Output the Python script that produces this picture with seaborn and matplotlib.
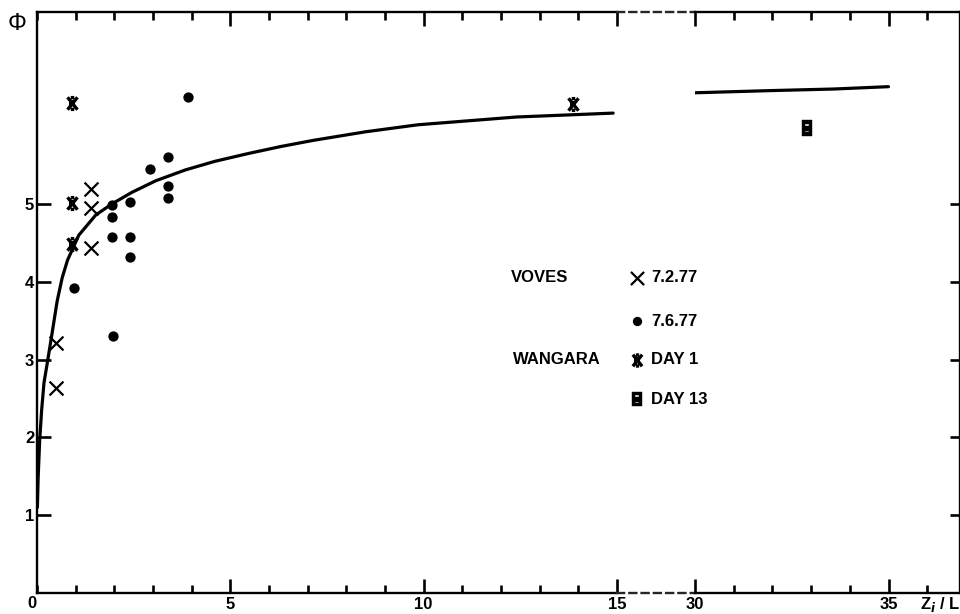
import numpy as np
import pandas as pd
import matplotlib
matplotlib.use("Agg")
import matplotlib.pyplot as plt
from matplotlib.path import Path
from matplotlib.ticker import MultipleLocator, FixedLocator
import seaborn as sns

# ---------------- data ----------------
voves_feb_x = [0.5, 0.5, 1.4, 1.4, 1.4]
voves_feb_y = [3.21, 2.63, 5.19, 4.95, 4.43]

voves_jun_x = [0.95, 1.93, 1.93, 1.93, 1.97, 2.4, 2.4, 2.4, 2.92, 3.39, 3.39, 3.39, 3.9]
voves_jun_y = [3.92, 4.99, 4.83, 4.58, 3.30, 5.03, 4.58, 4.32, 5.45, 5.61, 5.23, 5.08, 6.38]

wangara_d1_x = [0.9, 0.9, 0.9, 13.85]
wangara_d1_y = [6.30, 5.01, 4.49, 6.29]

wangara_d13_x = [32.9]
wangara_d13_y = [5.98]

curve_left_x = [0.01, 0.03, 0.07, 0.12, 0.18, 0.27, 0.39, 0.52, 0.65, 0.79, 1.08, 1.52, 1.93,
                2.45, 3.07, 3.84, 4.60, 5.46, 6.30, 7.15, 8.50, 9.85, 12.4, 14.9]
curve_left_y = [1.10, 1.49, 1.97, 2.35, 2.70, 2.97, 3.34, 3.75, 4.05, 4.28, 4.60, 4.86, 5.00,
                5.15, 5.30, 5.44, 5.55, 5.65, 5.74, 5.82, 5.93, 6.02, 6.12, 6.17]

curve_right_x = [29.9, 32.0, 33.6, 35.0]
curve_right_y = [6.43, 6.46, 6.48, 6.51]

legend_labels = ["7.2.77", "7.6.77", "DAY 1", "DAY 13"]
group_labels = ["VOVES", "WANGARA"]
left_xticks = [5, 10, 15]
right_xticks = [30, 35]
yticks = [1, 2, 3, 4, 5]

# ---------------- style ----------------
sns.set_style("ticks")
plt.rcParams["font.family"] = ["Liberation Sans", "DejaVu Sans"]
plt.rcParams["font.size"] = 12
plt.rcParams["font.weight"] = "bold"
plt.rcParams["text.color"] = "black"
plt.rcParams["xtick.labelcolor"] = "black"
plt.rcParams["ytick.labelcolor"] = "black"

W, H = 960, 614
fig = plt.figure(figsize=(W / 100, H / 100), dpi=100)

def frac(x0, x1, ytop, ybot):
    return [x0 / W, (H - ybot) / H, (x1 - x0) / W, (ybot - ytop) / H]

axL = fig.add_axes(frac(37, 617, 12, 593))
axM = fig.add_axes(frac(617, 695, 12, 593))
axR = fig.add_axes(frac(695, 960, 12, 593))

YMAX = 7.47
lw_spine = 1.7

# custom markers
def rect(x0, y0, x1, y1, rev=False):
    pts = [(x0, y0), (x1, y0), (x1, y1), (x0, y1), (x0, y0)]
    if rev:
        pts = pts[::-1]
    return pts

CLOSED = [Path.MOVETO] + [Path.LINETO] * 3 + [Path.CLOSEPOLY]
SEG = [Path.MOVETO, Path.LINETO]

# bold X with short serif bars (open strokes only)
wang_marker = Path([(-0.8, -1), (0.8, 1), (0.8, -1), (-0.8, 1),
                    (-0.28, 0.95), (0.28, 0.95), (-0.28, -0.95), (0.28, -0.95)], SEG * 4)

d13_verts = (rect(-0.62, -1, 0.62, 1)
             + rect(-0.25, -0.55, 0.25, -0.35, True)
             + rect(-0.25, 0.3, 0.25, 0.5, True))
d13_marker = Path(d13_verts, CLOSED * 3)

for ax in (axL, axR):
    ax.set_ylim(0, YMAX)
    for s in ax.spines.values():
        s.set_linewidth(lw_spine)
        s.set_color("black")
    ax.tick_params(which="both", direction="in", top=True, bottom=True,
                   width=1.9, color="black", labelsize=12, pad=3)
    ax.tick_params(which="major", length=10)
    ax.tick_params(which="minor", length=6)
    ax.yaxis.set_major_locator(FixedLocator(yticks))

axL.set_xlim(0, 15)
axL.xaxis.set_major_locator(FixedLocator(left_xticks))
axL.xaxis.set_minor_locator(MultipleLocator(1))
axL.spines["right"].set_visible(False)
axL.tick_params(axis="y", left=True, right=False, labelleft=True, pad=2)

axR.set_xlim(30, 30 + 265 / 38.7)
axR.xaxis.set_major_locator(FixedLocator(right_xticks))
axR.xaxis.set_minor_locator(MultipleLocator(1))
axR.spines["left"].set_visible(False)
axR.tick_params(axis="y", left=False, right=True, labelleft=False, labelright=False)
axR.tick_params(axis="y", which="major", length=7)

axM.set_xlim(0, 1)
axM.set_ylim(0, 1)
axM.set_xticks([])
axM.set_yticks([])
axM.patch.set_alpha(0)
for k in ("left", "right"):
    axM.spines[k].set_visible(False)
for k in ("top", "bottom"):
    axM.spines[k].set_linestyle((0, (3, 2.2)))
    axM.spines[k].set_linewidth(lw_spine)

# ---------------- curves ----------------
sns.lineplot(x=curve_left_x, y=curve_left_y, ax=axL, color="black", lw=2.3, sort=False)
sns.lineplot(x=curve_right_x, y=curve_right_y, ax=axR, color="black", lw=2.3, sort=False)

# ---------------- points ----------------
sns.scatterplot(x=voves_feb_x, y=voves_feb_y, ax=axL, marker="x", s=100,
                color="black", linewidth=1.6, clip_on=False)
sns.scatterplot(x=voves_jun_x, y=voves_jun_y, ax=axL, marker="o", s=55,
                color="black", edgecolor="black", linewidth=0)
sns.scatterplot(x=wangara_d1_x, y=wangara_d1_y, ax=axL, marker=wang_marker, s=80,
                color="black", edgecolor="black", linewidth=2.4)
sns.scatterplot(x=wangara_d1_x, y=wangara_d1_y, ax=axL, marker="s", s=16,
                color="black", edgecolor="black", linewidth=0)
sns.scatterplot(x=wangara_d13_x, y=wangara_d13_y, ax=axR, marker=d13_marker, s=125,
                color="black", edgecolor="black", linewidth=0.3)

# ---------------- legend (text + markers in figure coords) ----------------
rows_y = [278, 321, 360, 399]
mk = [[("x", 90, 1.6)], [("o", 45, 0)], [(wang_marker, 70, 2.4), ("s", 14, 0)],
      [(d13_marker, 115, 0.3)]]
for marks, lab, py in zip(mk, legend_labels, rows_y):
    for (m, s, lw) in marks:
        axL.scatter([637 / W], [(H - py) / H], transform=fig.transFigure, marker=m,
                    s=s, color="black", linewidths=lw, clip_on=False, zorder=5)
    fig.text(651 / W, (H - py) / H, lab, ha="left", va="center", fontsize=12)
fig.text(511 / W, (H - rows_y[0]) / H, group_labels[0], ha="left", va="center", fontsize=12)
fig.text(513 / W, (H - rows_y[2]) / H, group_labels[1], ha="left", va="center", fontsize=12)

# ---------------- axis labels ----------------
axL.set_xticklabels([str(t) for t in left_xticks])
axR.set_xticklabels([str(t) for t in right_xticks])
for ax in (axL, axR):
    ax.set_xlabel("")
    ax.set_ylabel("")
fig.text(32 / W, (H - 604) / H, "0", ha="center", va="center", fontsize=12)
fig.text(17 / W, (H - 24) / H, "Φ", ha="center", va="center", fontsize=17, fontweight="normal")
fig.text(920 / W, (H - 605) / H, "Z$_i$ / L", ha="left", va="center", fontsize=12)

fig.savefig("out.png", dpi=100)
